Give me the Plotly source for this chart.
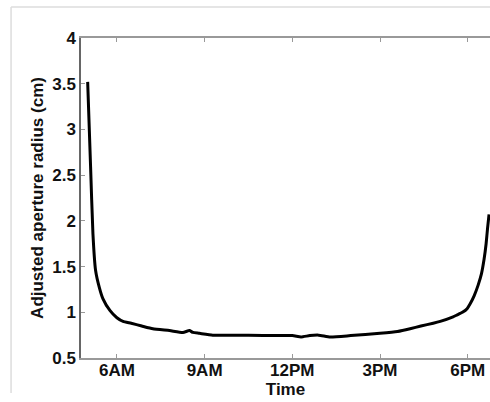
import plotly.graph_objects as go

# Time of day in hours
hours = [5.00, 5.10, 5.18, 5.27, 5.40, 5.52, 5.76, 6.00, 6.21, 6.49, 6.85, 7.23, 7.80, 8.26, 8.48, 8.60, 8.82,
         9.28, 10.0, 11.0, 12.0, 12.3, 12.6, 12.9, 13.3, 14.0, 15.0, 15.6, 16.03, 16.4, 16.82, 17.06,
         17.5, 17.63, 17.82, 17.98, 18.08, 18.22, 18.36, 18.47, 18.56, 18.63, 18.68, 18.73]
radius = [3.52, 2.59, 1.86, 1.46, 1.27, 1.15, 1.02, 0.94, 0.90, 0.88, 0.85, 0.82, 0.80, 0.78, 0.80, 0.78, 0.77,
          0.75, 0.75, 0.745, 0.745, 0.73, 0.745, 0.75, 0.73, 0.745, 0.77, 0.79, 0.82, 0.85, 0.88, 0.90,
          0.95, 0.97, 1.00, 1.04, 1.09, 1.18, 1.30, 1.42, 1.58, 1.75, 1.92, 2.07]

tick_vals = [6, 9, 12, 15, 18]
tick_text = ["6AM", "9AM", "12PM", "3PM", "6PM"]
y_ticks = [0.5, 1, 1.5, 2, 2.5, 3, 3.5, 4]
y_text = ["0.5", "1", "1.5", "2", "2.5", "3", "3.5", "4"]

font = dict(family="Liberation Sans, Arial, sans-serif", size=17, color="#111", weight="bold")

fig = go.Figure(go.Scatter(x=hours, y=radius, mode="lines",
                           line=dict(color="#000", width=3, shape="spline", smoothing=0.5),
                           showlegend=False))

fig.update_layout(
    width=490, height=402,
    margin=dict(l=81, r=0, t=38, b=44),
    paper_bgcolor="white", plot_bgcolor="white",
    font=font,
    xaxis=dict(range=[4.772, 18.763], tickvals=tick_vals, ticktext=tick_text,
               showgrid=False, zeroline=False, showline=True, linecolor="#999", linewidth=1.5,
               mirror="ticks", ticks="inside", ticklen=4, tickcolor="#999",
               tickfont=font, ticklabelstandoff=-4,
               title=dict(text="Time", font=font, standoff=0)),
    yaxis=dict(range=[0.5, 4], tickvals=y_ticks, ticktext=y_text,
               showgrid=False, zeroline=False, showline=True, linecolor="#666", linewidth=1.5,
               ticks="inside", ticklen=4, tickcolor="#999",
               tickfont=font,
               title=dict(text="Adjusted aperture radius (cm)", font=font, standoff=4)),
    shapes=[
        dict(type="line", xref="paper", yref="paper", x0=-0.171, x1=1.01, y0=1.097, y1=1.097,
             line=dict(color="#ddd", width=1.5)),
        dict(type="line", xref="paper", yref="paper", x0=-0.171, x1=-0.171, y0=1.097, y1=-0.109,
             line=dict(color="#ddd", width=1.5)),
    ],
)

fig.write_html("out.html")
